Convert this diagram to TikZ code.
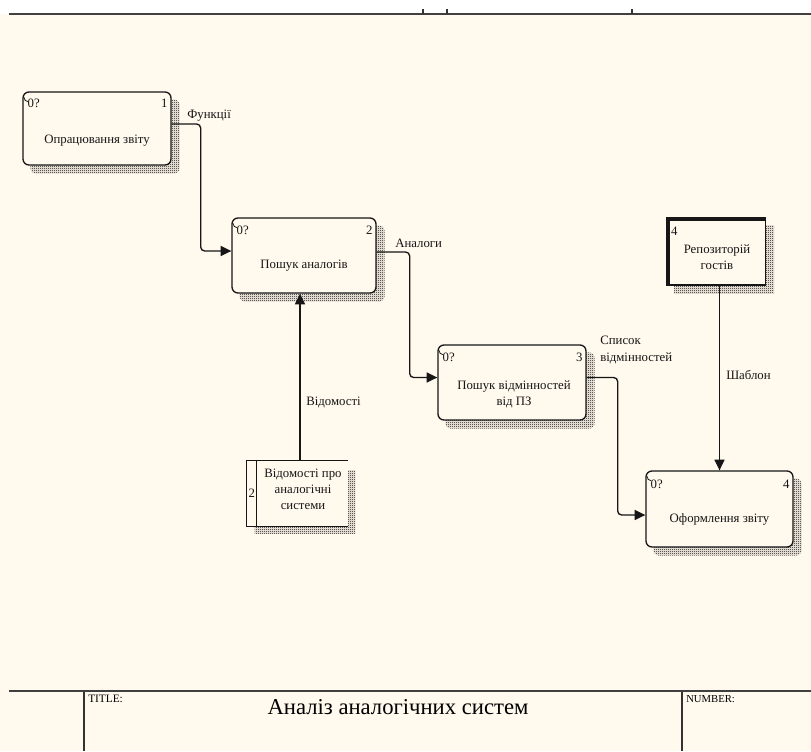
\documentclass[tikz,border=0pt]{standalone}
\usepackage{fontspec}
\setmainfont{Liberation Serif}
\usetikzlibrary{arrows.meta,patterns}

% fine checkerboard used for the drop shadows
\pgfdeclarepatternformonly{shadowcheck}{\pgfqpoint{0pt}{0pt}}{\pgfqpoint{1.5pt}{1.5pt}}{\pgfqpoint{1.5pt}{1.5pt}}{%
  \pgfpathrectangle{\pgfqpoint{0pt}{0pt}}{\pgfqpoint{0.75pt}{0.75pt}}%
  \pgfpathrectangle{\pgfqpoint{0.75pt}{0.75pt}}{\pgfqpoint{0.75pt}{0.75pt}}%
  \pgfusepath{fill}}

\definecolor{paper}{HTML}{FFF9EE}
\definecolor{ink}{HTML}{161616}

\pgfdeclarelayer{bg}
\pgfsetlayers{bg,main}

\tikzset{
  activity/.style={draw=ink, line width=1pt, rounded corners=4.5pt, fill=paper, inner sep=0pt},
  plainbox/.style={inner sep=0pt, fill=paper},
  boxtext/.style={font=\fontsize{9.6}{12}\selectfont, align=center, inner sep=0pt, text=ink},
  tag/.style={font=\fontsize{9.6}{11}\selectfont, inner sep=0pt, text=ink},
  lbl/.style={font=\fontsize{9.6}{13}\selectfont, inner sep=0pt, align=left, text=ink},
  flow/.style={draw=ink, line width=1pt, rounded corners=3pt, -{Triangle[length=8pt,width=7.5pt]}},
  shade/.style={pattern=shadowcheck, pattern color=black},
  frame/.style={draw=black!75, line width=1.6pt},
  rule/.style={draw=black!80, line width=0.8pt},
}

\begin{document}
\begin{tikzpicture}[x=0.75pt,y=-0.75pt]
\useasboundingbox (0,0) rectangle (811,751);

% sheet
\begin{pgfonlayer}{bg}
  \fill[white] (0,0) rectangle (811,751);
  \fill[paper] (0,14) rectangle (811,751);
\end{pgfonlayer}

% top frame with ticks
\draw[frame] (9,14) -- (811,14);
\draw[rule] (423,9) -- (423,14) (447,9) -- (447,14) (632,9) -- (632,14);

% activity boxes
\node[activity, minimum width=111pt, minimum height=54.75pt] (b1) at (97,128.5) {};
\node[activity, minimum width=108pt, minimum height=56.25pt] (b2) at (304,255.5) {};
\node[activity, minimum width=111pt, minimum height=56.25pt] (b3) at (512,382.5) {};
\node[activity, minimum width=110.25pt, minimum height=57pt] (b4) at (719.5,509) {};

% external entity and data store
\node[plainbox, draw=ink, line width=1pt, minimum width=74.25pt, minimum height=50.25pt] (b5) at (716,251.5) {};
\node[plainbox, minimum width=75.75pt, minimum height=48.75pt] (b6) at (297.5,493.5) {};

% shadows
\begin{pgfonlayer}{bg}
  \foreach \b in {b1,b2,b3,b4}{
    \path[shade, rounded corners=4.5pt] ([shift={(8,8)}]\b.north west) rectangle ([shift={(8,8)}]\b.south east);
  }
  \path[shade] ([shift={(8,8)}]b5.north west) rectangle ([shift={(8,8)}]b5.south east);
  \path[shade] ([shift={(8,10)}]b6.north west) rectangle ([shift={(7,7)}]b6.south east);
\end{pgfonlayer}

% doubled top-left corners of the activity boxes
\foreach \b in {b1,b2,b3,b4}{
  \draw[ink, line width=0.6pt] ([shift={(1.6,6)}]\b.north west) arc[start angle=180, end angle=90, radius=4.4];
}

% entity: heavy top and left edges
\draw[ink, line width=3pt] ([shift={(2,0)}]b5.south west) -- ([shift={(2,2)}]b5.north west) -- ([shift={(0,2)}]b5.north east);

% data store: open on the right, with the number column
\draw[ink, line width=1pt] (b6.north east) -- (b6.north west) -- (b6.south west) -- (b6.south east);
\draw[ink, line width=1pt] ([shift={(10,0)}]b6.north west) -- ([shift={(10,0)}]b6.south west);

% box texts
\node[boxtext] (b1t) at (97,141) {Опрацювання звіту};
\node[boxtext] (b2t) at (304,266) {Пошук аналогів};
\node[boxtext] (b3t) at (514,394) {Пошук відмінностей\\від ПЗ};
\node[boxtext] (b4t) at (719.5,519) {Оформлення звіту};
\node[boxtext] (b5t) at (717,257) {Репозиторій\\гостів};
\node[boxtext] (b6t) at (303,489) {Відомості про\\аналогічні\\системи};

% corner tags
\node[tag, anchor=west] (b1a) at ([shift={(5,12)}]b1.north west) {0?};
\node[tag, anchor=east] (b1b) at ([shift={(-4,12)}]b1.north east) {1};
\node[tag, anchor=west] (b2a) at ([shift={(5,13)}]b2.north west) {0?};
\node[tag, anchor=east] (b2b) at ([shift={(-4,13)}]b2.north east) {2};
\node[tag, anchor=west] (b3a) at ([shift={(5,13)}]b3.north west) {0?};
\node[tag, anchor=east] (b3b) at ([shift={(-4,13)}]b3.north east) {3};
\node[tag, anchor=west] (b4a) at ([shift={(5,14)}]b4.north west) {0?};
\node[tag, anchor=east] (b4b) at ([shift={(-4,14)}]b4.north east) {4};
\node[tag, anchor=west] (b5a) at ([shift={(5,14)}]b5.north west) {4};
\node[tag] (b6a) at ([shift={(5,0)}]b6.west) {2};

% flows
\draw[flow] ([shift={(0,-4.5)}]b1.east) -- ++(29,0) |- ([shift={(0,-4.5)}]b2.west);
\draw[flow] ([shift={(0,-3.5)}]b2.east) -- ++(33,0) |- ([shift={(0,-5)}]b3.west);
\draw[flow] ([shift={(0,-5)}]b3.east) -- ++(31,0) |- ([shift={(0,6)}]b4.west);
\draw[flow] (b4.north |- b5.south) -- (b4.north);
\draw[flow] ([shift={(-4,0)}]b2.south |- b6.north) -- ([shift={(-4,0)}]b2.south);

% flow labels
\node[lbl, anchor=west] (l1) at (187,116) {Функції};
\node[lbl, anchor=west] (l2) at (395,243) {Аналоги};
\node[lbl, anchor=west] (l3) at (600,350) {Список\\відмінностей};
\node[lbl, anchor=west] (l4) at (726,375) {Шаблон};
\node[lbl, anchor=west] (l5) at (306,402) {Відомості};

% title block
\draw[frame] (9,691) -- (811,691);
\draw[rule] (84,692) -- (84,751) (682,692) -- (682,751);
\node[anchor=north west, inner sep=0pt, font=\fontsize{8.5}{9}\selectfont] (tl) at (88,695) {TITLE:};
\node[inner sep=0pt, font=\fontsize{17}{19}\selectfont] (tt) at (398,707) {Аналіз аналогічних систем};
\node[anchor=north west, inner sep=0pt, font=\fontsize{8}{9}\selectfont] (nl) at (686,695) {NUMBER:};
\end{tikzpicture}
\end{document}
